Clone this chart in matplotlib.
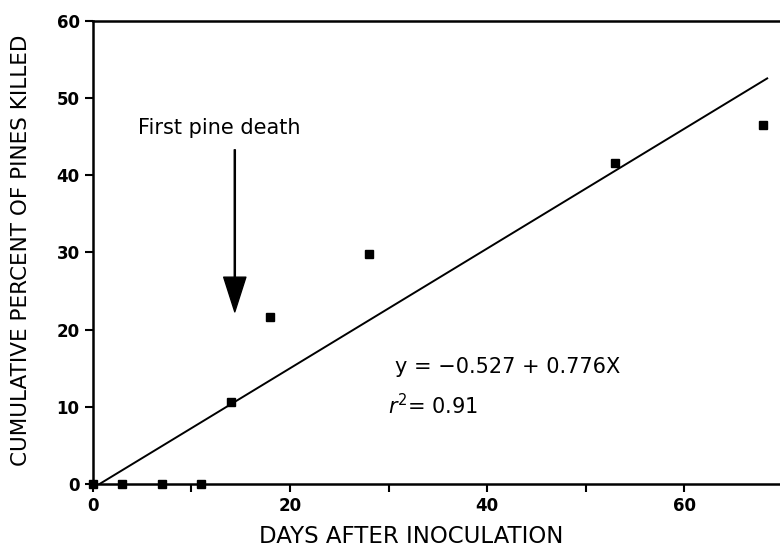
import matplotlib.pyplot as plt
import numpy as np

# observed points
days = [0, 3, 7, 11, 14, 18, 28, 53, 68]
pct_killed = [0, 0, 0, 0, 10.6, 21.7, 29.8, 41.6, 46.5]

# regression y = -0.527 + 0.776x
intercept = -0.527
slope = 0.776
fit_x = [0.7, 68.4]

fig = plt.figure(figsize=(7.8, 5.5), dpi=100)
ax = fig.add_axes([0.119, 0.12, 0.881, 0.842])

ax.plot(days, pct_killed, linestyle='none', marker='s', markersize=5.5,
        color='black', clip_on=False, zorder=3)
fx = np.array(fit_x)
ax.plot(fx, intercept + slope * fx, color='black', linewidth=1.4)

ax.set_xlim(0, 69.7)
ax.set_ylim(0, 60)
ax.set_xticks([0, 20, 40, 60])
ax.set_xticks([10, 30, 50], minor=True)
ax.set_yticks(range(0, 61, 10))
ax.tick_params(axis='both', which='both', direction='out', length=6, width=1.5,
               labelsize=12)
for lab in ax.get_xticklabels() + ax.get_yticklabels():
    lab.set_fontweight('bold')

ax.spines['right'].set_visible(False)
for s in ['left', 'top', 'bottom']:
    ax.spines[s].set_linewidth(1.8)

ax.set_xlabel('DAYS AFTER INOCULATION', fontsize=16.5)
ax.xaxis.set_label_coords(0.463, -0.088)
ax.set_ylabel('CUMULATIVE PERCENT OF PINES KILLED', fontsize=15.5)
ax.yaxis.set_label_coords(-0.09, 0.505)

ax.text(12.8, 46.1, 'First pine death', fontsize=15, ha='center', va='center')
ax.annotate('', xy=(14.4, 22.3), xytext=(14.4, 43.3),
            arrowprops=dict(facecolor='black', edgecolor='black', width=0.8,
                            headwidth=16, headlength=25, shrink=0))

ax.text(30.6, 15.2, 'y = \u22120.527 + 0.776X', fontsize=15, va='center')
ax.text(29.9, 10.2, '$r^2$= 0.91', fontsize=15, va='center')

fig.savefig('out.png', dpi=100)
